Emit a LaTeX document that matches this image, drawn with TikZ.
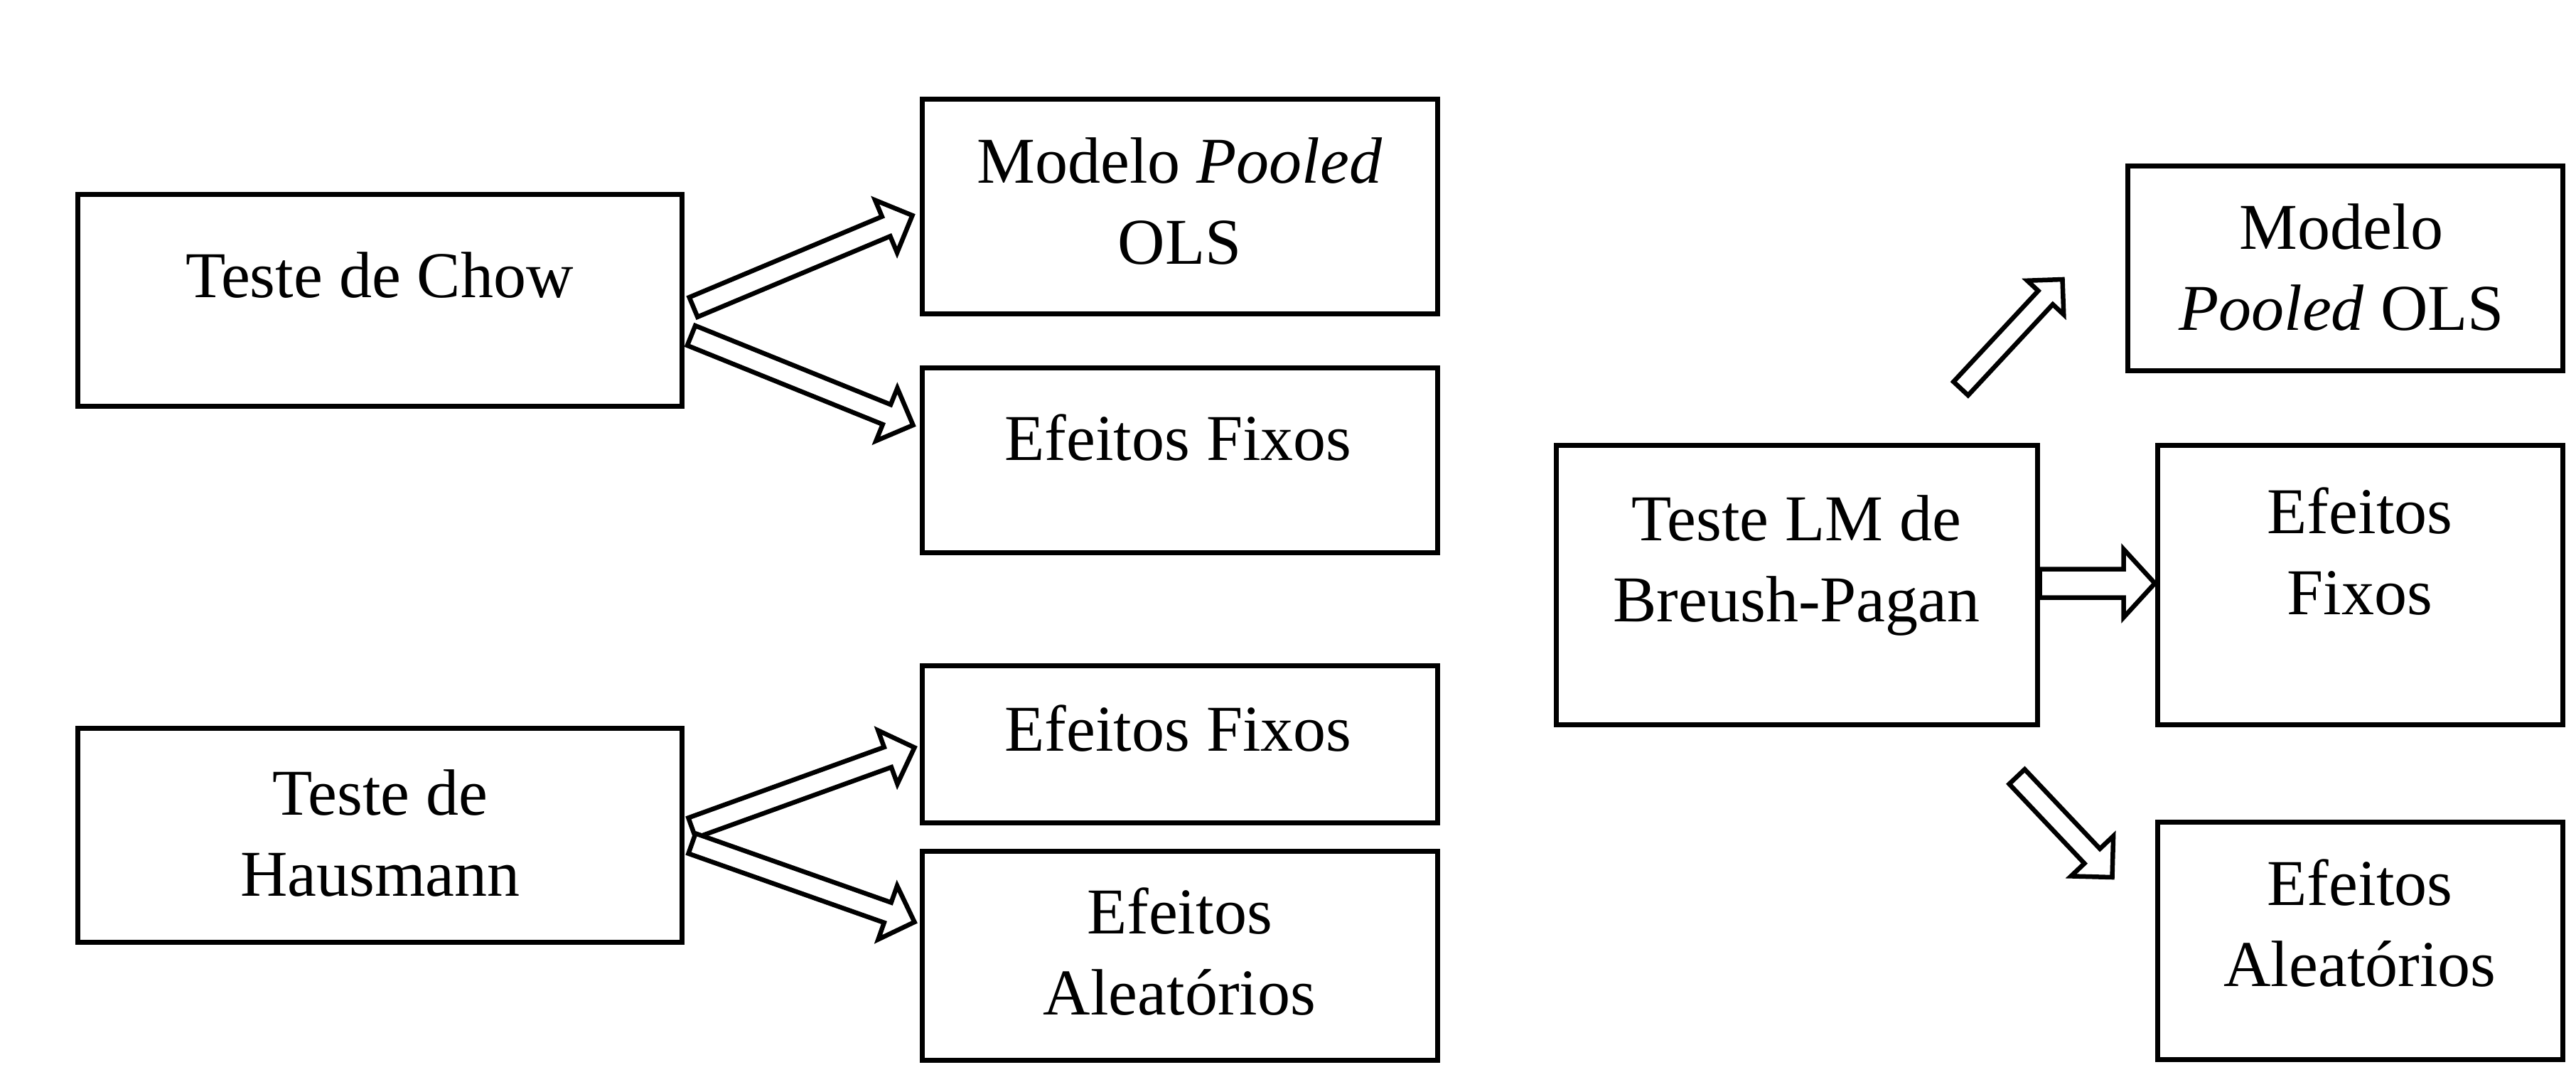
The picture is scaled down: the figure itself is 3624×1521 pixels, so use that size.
\documentclass[tikz,border=0pt]{standalone}
\usepackage{fontspec}
\setmainfont{Liberation Serif}
\usetikzlibrary{calc}
\newcommand\twolines[2]{\begin{tabular}[t]{@{}c@{}}#1\\#2\end{tabular}}
% block arrow: #1 tail, #2 tip, #3 shaft half width, #4 head half width, #5 head length
\newcommand\blockarrow[5]{%
  \draw[barrow] ($(#1)!#3pt!90:(#2)$) -- ($(#2)!#5pt!(#1)!#3pt!-90:(#1)$)
    -- ($(#2)!#5pt!(#1)!#4pt!-90:(#1)$) -- (#2)
    -- ($(#2)!#5pt!(#1)!#4pt!90:(#1)$) -- ($(#2)!#5pt!(#1)!#3pt!90:(#1)$)
    -- ($(#1)!#3pt!-90:(#2)$) -- cycle;}
\tikzset{
  box/.style={draw, line width=7pt, inner sep=0pt, rectangle},
  txt/.style={font=\fontsize{92}{114}\selectfont, inner sep=0pt, anchor=base},
  barrow/.style={draw, fill=white, line width=6.5pt, line join=miter}
}
\begin{document}
\begin{tikzpicture}[x=1pt,y=-1pt]
\useasboundingbox[fill=white] (0,0) rectangle (3624,1521);
% boxes
\node[box, minimum width=850pt, minimum height=298pt] (chow) at (534,422) {};
\node[box, minimum width=725pt, minimum height=302pt] (poolL) at (1659.5,290) {};
\node[box, minimum width=725pt, minimum height=260pt] (fixL1) at (1659.5,647) {};
\node[box, minimum width=850pt, minimum height=301pt] (haus) at (534,1174.5) {};
\node[box, minimum width=725pt, minimum height=221pt] (fixL2) at (1659.5,1046.5) {};
\node[box, minimum width=725pt, minimum height=294pt] (aleL) at (1659.5,1344) {};
\node[box, minimum width=677pt, minimum height=393pt] (lm) at (2527.5,822.5) {};
\node[box, minimum width=612pt, minimum height=288pt] (poolR) at (3299,377) {};
\node[box, minimum width=570pt, minimum height=393pt] (fixR) at (3320,822.5) {};
\node[box, minimum width=570pt, minimum height=334pt] (aleR) at (3320,1323) {};
% texts
\node[txt] (chowT) at ($(chow)+(0,-4)$) {Teste de Chow};
\node[txt] (poolLT) at ($(poolL)+(0,-33)$) {\twolines{Modelo \textit{Pooled}}{OLS}};
\node[txt] (fixL1T) at ($(fixL1)+(-2,0)$) {Efeitos Fixos};
\node[txt] (hausT) at ($(haus)+(1,-28.5)$) {\twolines{Teste de}{Hausmann}};
\node[txt] (fixL2T) at ($(fixL2)+(-2,9.5)$) {Efeitos Fixos};
\node[txt] (aleLT) at ($(aleL)+(0,-31)$) {\twolines{Efeitos}{Aleatórios}};
\node[txt] (lmT) at ($(lm)+(0,-62.5)$) {\twolines{Teste LM de}{Breush-Pagan}};
\node[txt] (poolRT) at ($(poolR)+(-5,-27)$) {\twolines{Modelo}{\textit{Pooled} OLS}};
\node[txt] (fixRT) at ($(fixR)+(0,-72)$) {\twolines{Efeitos}{Fixos}};
\node[txt] (aleRT) at ($(aleR)+(0,-50)$) {\twolines{Efeitos}{Aleatórios}};
% arrow ends
\coordinate (a1s) at ($(chow.east)+(13,10)$);
\coordinate (a1e) at ($(poolL.west)+(-10,13)$);
\coordinate (a2s) at ($(chow.east)+(10,50)$);
\coordinate (a2e) at ($(fixL1.west)+(-9,-49)$);
\coordinate (a3s) at ($(haus.east)+(11,-10)$);
\coordinate (a3e) at ($(fixL2.west)+(-7,5)$);
\coordinate (a4s) at ($(haus.east)+(11,12)$);
\coordinate (a4e) at ($(aleL.west)+(-7,-47)$);
\coordinate (a5s) at ($(lm.north)+(231,-76)$);
\coordinate (a5e) at ($(poolR.west)+(-88,16)$);
\coordinate (a6s) at ($(lm.east)+(0,-2)$);
\coordinate (a6e) at ($(fixR.west)+(0,-2)$);
\coordinate (a7s) at ($(lm.south)+(310,70)$);
\coordinate (a7e) at ($(aleR.west)+(-60,-89)$);
% arrows
\blockarrow{a1s}{a1e}{15}{40}{40}
\blockarrow{a2s}{a2e}{15}{40}{40}
\blockarrow{a3s}{a3e}{15}{40}{40}
\blockarrow{a4s}{a4e}{15}{40}{40}
\blockarrow{a5s}{a5e}{14}{35}{35}
\blockarrow{a6s}{a6e}{20}{48}{44}
\blockarrow{a7s}{a7e}{15}{41}{41}
\end{tikzpicture}
\end{document}
